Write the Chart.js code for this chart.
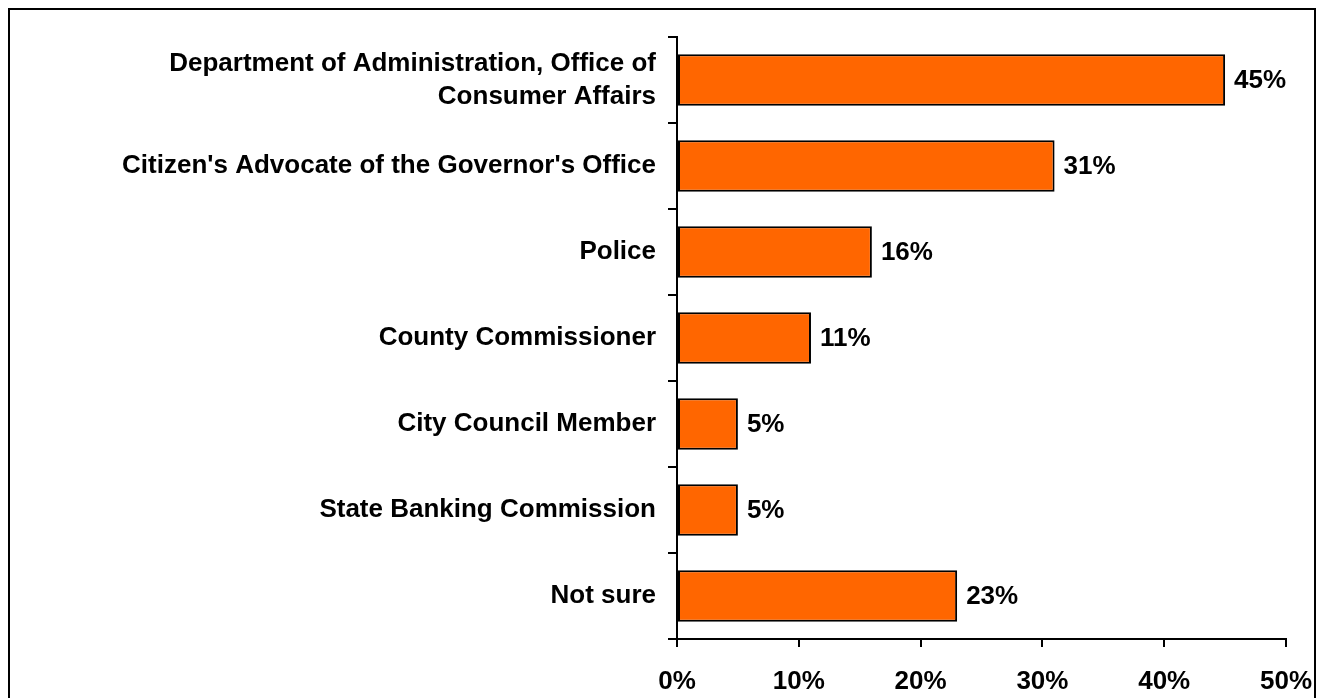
<!DOCTYPE html>
<html>
<head>
<meta charset="utf-8">
<script src="https://cdn.jsdelivr.net/npm/chart.js@4/dist/chart.umd.min.js"></script>
<style>
  html, body { margin: 0; padding: 0; background: #fff; overflow: hidden; }
  #wrap { position: relative; width: 1317px; height: 698px; }
</style>
</head>
<body>
<div id="wrap"><canvas id="chart"></canvas></div>
<script>
// Who respondents would contact, share of respondents
const categories = [
  ['Department of Administration, Office of', 'Consumer Affairs'],
  "Citizen's Advocate of the Governor's Office",
  'Police',
  'County Commissioner',
  'City Council Member',
  'State Banking Commission',
  'Not sure',
];
const shares = [45, 31, 16, 11, 5, 5, 23];
const tickValues = [0, 10, 20, 30, 40, 50];

const FONT = { family: '"Liberation Sans", Arial, sans-serif', size: 26, weight: 'bold', lineHeight: 1.28 };

// outer frame round the whole figure
const framePlugin = {
  id: 'frame',
  afterDraw(chart) {
    const ctx = chart.ctx;
    ctx.save();
    ctx.strokeStyle = '#000';
    ctx.lineWidth = 2;
    ctx.strokeRect(9, 9, 1306, 720);
    ctx.restore();
  }
};

// percentage text at the end of each bar
const valueLabels = {
  id: 'valueLabels',
  afterDatasetsDraw(chart) {
    const ctx = chart.ctx;
    const meta = chart.getDatasetMeta(0);
    ctx.save();
    ctx.font = 'bold 26px "Liberation Sans", Arial, sans-serif';
    ctx.fillStyle = '#000';
    ctx.textAlign = 'left';
    ctx.textBaseline = 'middle';
    meta.data.forEach((bar, i) => {
      ctx.fillText(shares[i] + '%', bar.x + 9, bar.y + 1);
    });
    ctx.restore();
  }
};

new Chart(document.getElementById('chart'), {
  type: 'bar',
  data: {
    labels: categories,
    datasets: [{
      data: shares,
      backgroundColor: '#FF6600',
      borderColor: '#000',
      borderWidth: 2,
      borderSkipped: false,
      barPercentage: 0.6,
      categoryPercentage: 1,
    }],
  },
  plugins: [valueLabels, framePlugin],
  options: {
    indexAxis: 'y',
    responsive: true,
    maintainAspectRatio: false,
    animation: false,
    layout: { padding: { top: 37, right: 31, left: 0, bottom: 0 } },
    scales: {
      x: {
        type: 'linear',
        min: 0,
        max: 50,
        afterBuildTicks: scale => { scale.ticks = tickValues.map(v => ({ value: v })); },
        afterFit: scale => {
          scale.height = 59;
          // let the end labels run past the plot edges
          scale.paddingLeft = 0;
          scale.paddingRight = 0;
        },
        ticks: {
          color: '#000',
          font: FONT,
          padding: 18,
          maxRotation: 0,
          callback: v => v + '%',
        },
        grid: { drawOnChartArea: false, color: '#000', lineWidth: 2, tickLength: 8 },
        border: { color: '#000', width: 2 },
      },
      y: {
        afterFit: scale => {
          scale.width = 677;
          scale.paddingTop = 0;
          scale.paddingBottom = 0;
        },
        ticks: { color: '#000', font: FONT, padding: 12 },
        grid: { drawOnChartArea: false, offset: true, color: '#000', lineWidth: 2, tickLength: 9 },
        border: { color: '#000', width: 2 },
      },
    },
    plugins: {
      legend: { display: false },
      tooltip: { enabled: false },
    },
  },
});
</script>
</body>
</html>
